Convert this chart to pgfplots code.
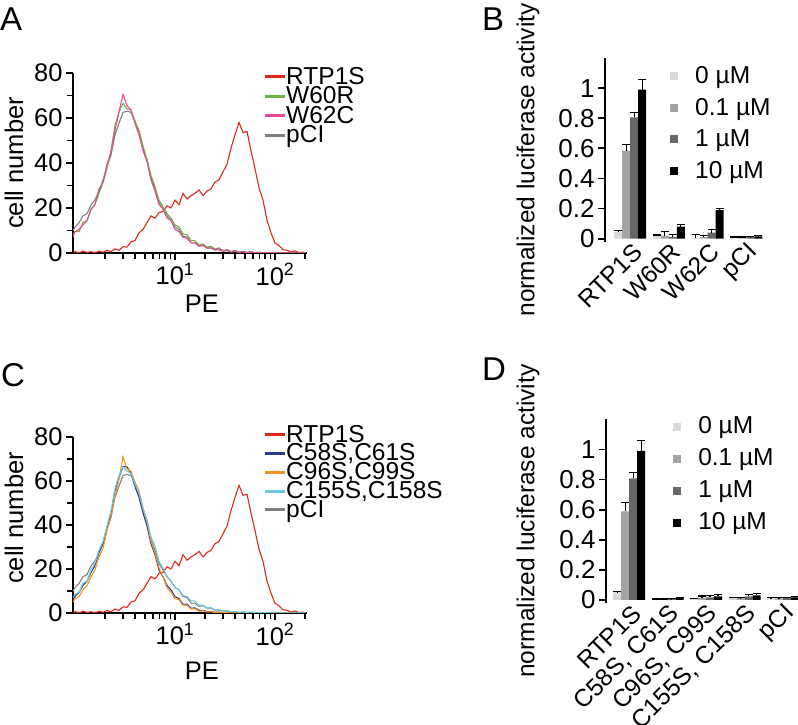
\documentclass[border=0pt]{standalone}
\usepackage{fontspec}
\setmainfont{Liberation Sans}
\usepackage{pgfplots}
\pgfplotsset{compat=1.18}
\usepackage{pgfplotstable}

\definecolor{cRTP}{HTML}{E0251B}
\definecolor{cW60R}{HTML}{6CB33F}
\definecolor{cW62C}{HTML}{E84A9B}
\definecolor{cpCI}{HTML}{808080}
\definecolor{cC58}{HTML}{2B3A8F}
\definecolor{cC96}{HTML}{F5921E}
\definecolor{cC155}{HTML}{6ACBE0}
\definecolor{g0}{HTML}{D9D9D9}
\definecolor{g1}{HTML}{A3A3A3}
\definecolor{g2}{HTML}{666666}

\newcommand{\fs}{\fontsize{24.5}{29}\selectfont}
\newcommand{\fl}{\fontsize{25.5}{30}\selectfont}

% flow histograms, PE channel (log), counts per bin
\pgfplotstableread{
pe    red  gray green pink blue orange cyan
0.955 0.3  10   8     7    6    5      7
1.00  0.6  11.5 9.5   9.5  7.5  6.5    8.5
1.10  0    13.5 9.5   10.5 9.5  7.5    9.5
1.20  0.9  16.5 13.5  12.5 12.5 10.5   13.5
1.32  0.2  17.5 14.5  14.5 14.5 12.5   14.5
1.45  0.6  21.5 19.5  19.5 18.5 16.5   19.5
1.58  0    23.5 21.5  21.5 21.5 19.5   22.5
1.74  0.8  27.5 26.5  28.5 27.5 25.5   28.5
1.91  0.3  32.5 31.5  31.5 31.5 29.5   32.5
2.09  1.2  38.5 37.5  39.5 38.5 37.5   39.5
2.29  0.6  43.5 45.5  44.5 45.5 43.5   46.5
2.51  1.8  52.5 56.5  54.5 55.5 53.5   56.5
2.75  1.2  57.5 62.5  62.5 61.5 60.5   62.5
3.02  2.8  62.5 66.5  70.5 66.5 71     66.5
3.31  2.6  63   64    65.5 66.5 65.5   64.5
3.63  5    62.5 63.5  63.5 63.5 64.5   63.5
3.98  5.5  58.5 58.5  57.5 57.5 59.5   58.5
4.37  9    53.5 54.5  52.5 52.5 55.5   54.5
4.79  10.5 46.5 47.5  45.5 45.5 47.5   47.5
5.25  13.5 41.5 41.5  40.5 39.5 41.5   42.5
5.75  16.5 33.5 34.5  32.5 31.5 32.5   34.5
6.31  15.5 28.5 29.5  27.5 26.5 27.5   30.5
6.92  18   22.5 23.5  21.5 19.5 20.5   23.5
7.59  18.5 19.5 20.5  19.5 16.5 16.5   20.5
8.32  21   16.5 17.5  15.5 12.5 11.5   16.5
9.12  20   14.5 15.5  14.5 10.5 9.5    14.5
10.0  23.5 11.5 12.5  10.5 7.5  6.5    11.5
11.0  21.5 10.5 11.5  9.5  6.5  6      10.5
12.0  26.5 7.5  8.5   7    4    3.5    8
13.2  24   7    8     6.5  4    3.5    7.5
14.5  25.5 4.5  5.5   4.5  2.2  1.8    5.5
15.8  26.5 4.5  5.5   4.5  2.3  2      5.5
17.4  28   3    3.5   3    1.2  0.8    3.5
19.1  25.5 3.3  4     3.5  1.2  1      3.5
20.9  27.5 2.2  2.6   2.2  0.6  0.4    2.3
22.9  28.5 2.2  3     2.3  0.7  0.6    2.5
25.1  31.5 1.3  1.7   1.5  0.3  0.2    1.3
27.5  32.5 1.4  2.3   1.8  0.4  0.4    1.6
30.2  36   0.8  1.1   1    0.1  0.1    0.8
33.1  39.5 1    1.5   1.3  0.3  0.3    1.1
36.3  46.5 0.4  0.7   0.6  0    0      0.5
39.8  52.5 0.7  1.1   1    0.1  0.1    0.8
43.7  58   0.2  0.5   0.3  0    0      0.3
47.9  53.5 0.5  0.8   0.6  0    0      0.6
52.5  54   0.1  0.3   0.2  0    0      0.2
57.5  45.5 0.4  0.6   0.4  0    0      0.4
63.1  37.5 0.1  0.2   0.1  0    0      0.1
69.2  29   0.2  0.4   0.3  0    0      0.3
75.9  23.5 0    0.1   0    0    0      0
83.2  14.5 0.1  0.3   0.2  0    0      0.2
91.2  9    0    0     0    0    0      0
100   4.5  0    0.1   0    0    0      0
110   3.2  0    0     0    0    0      0
120   1.5  0    0     0    0    0      0
132   1.2  0    0     0    0    0      0
145   0.4  0    0     0    0    0      0
158   0.9  0    0     0    0    0      0
174   0.2  0    0     0    0    0      0
191   0.4  0    0     0    0    0      0
204   0    0    0     0    0    0      0
}\histdata

% luciferase, mean and error for 0, 0.1, 1, 10 uM
\pgfplotstableread{
x c0    e0    c1    e1    c2    e2    c3    e3
0 0.046 0.008 0.585 0.038 0.805 0.033 0.990 0.068
1 0.020 0.005 0.020 0.026 0.012 0.016 0.080 0.015
2 0.006 0.022 0.010 0.010 0.040 0.022 0.190 0.010
3 0.008 0.003 0.008 0.003 0.010 0.003 0.016 0.003
}\barsB
\pgfplotstableread{
x c0    e0    c1    e1    c2    e2    c3    e3
0 0.050 0.006 0.589 0.060 0.807 0.040 0.990 0.070
1 0.004 0.002 0.004 0.002 0.006 0.002 0.012 0.003
2 0.008 0.004 0.015 0.012 0.018 0.012 0.024 0.010
3 0.012 0.006 0.012 0.004 0.024 0.012 0.030 0.012
4 0.010 0.004 0.010 0.004 0.013 0.005 0.018 0.004
}\barsD

\pgfplotsset{
  histo/.style={
    scale only axis, width=234pt,
    xmin=0.955, xmax=209, ymin=0, ymax=80,
    axis lines=left, axis line style={-, line width=2.3pt},
    tick style={line width=1.8pt, black}, tick align=outside,
    major tick length=7pt, minor tick length=6pt,
    xtick={10,100}, xticklabels={10\textsuperscript{1},10\textsuperscript{2}},
    minor xtick={2,3,4,5,6,7,8,9,20,30,40,50,60,70,80,90,200},
    ytick={0,20,40,60,80}, minor ytick={10,30,50,70},
    /pgf/number format/assume math mode=true,
    tick label style={font=\fl}, label style={font=\fl},
    xlabel={PE}, ylabel={cell number},
    legend cell align=left,
    legend image code/.code={\draw[#1, line width=3pt] (0pt,0pt) -- (20pt,0pt);},
    every axis plot/.append style={line width=1.1pt},
  },
  bars/.style={
    scale only axis, ymin=-0.02, ymax=1.2, height=183.7pt,
    axis lines=left, axis line style={-, line width=2.3pt},
    x axis line style={draw=none}, xtick style={draw=none},
    ytick style={line width=1.8pt, black}, tick align=outside, major tick length=7pt,
    ytick={0,0.2,0.4,0.6,0.8,1},
    /pgf/number format/assume math mode=true,
    yticklabel style={font=\fontsize{26}{30}\selectfont},
    xticklabel style={font=\fs, xshift=10pt, yshift=3pt, rotate=45, anchor=east},
    label style={font=\fs},
    ylabel={normalized luciferase activity},
    ybar=0pt, bar width=8pt,
    error bars/y dir=plus, error bars/y explicit,
    error bars/error bar style={line width=1.2pt, draw=black},
    error bars/error mark options={rotate=90, mark size=4pt, line width=1.2pt, draw=black},
    legend cell align=left,
    legend image code/.code={\fill[#1] (0pt,-4pt) rectangle (8pt,4pt);},
  },
}

\begin{document}
\begin{tikzpicture}
\path[use as bounding box] (0pt,0pt) rectangle (798pt,725pt);

% A
\begin{axis}[xmode=log, histo, at={(73pt,472pt)}, anchor=south west, height=180pt,
  xlabel style={at={(axis description cs:0.551,-0.283)}, anchor=center},
  ylabel style={at={(axis description cs:-0.252,0.5)}, anchor=center},
  legend style={at={(0.812,1.034)}, anchor=north west, draw=none, fill=none,
    font=\fs, inner sep=0pt, row sep=0pt,
    nodes={inner sep=0pt, text height=17pt, text depth=2.5pt}}]
\addplot[cpCI, forget plot] table[x=pe, y=gray] {\histdata};
\addplot[cRTP] table[x=pe, y=red] {\histdata};
\addlegendentry{RTP1S}
\addplot[cW60R] table[x=pe, y=green] {\histdata};
\addlegendentry{W60R}
\addplot[cW62C] table[x=pe, y=pink] {\histdata};
\addlegendentry{W62C}
\addlegendimage{cpCI}
\addlegendentry{pCI}
\end{axis}

% C
\begin{axis}[xmode=log, histo, at={(73pt,112pt)}, anchor=south west, height=176pt,
  xlabel style={at={(axis description cs:0.551,-0.33)}, anchor=center},
  ylabel style={at={(axis description cs:-0.252,0.54)}, anchor=center},
  legend style={at={(0.812,1.066)}, anchor=north west, draw=none, fill=none,
    font=\fs, inner sep=0pt, row sep=0pt,
    nodes={inner sep=0pt, text height=16.5pt, text depth=2.25pt}}]
\addplot[cpCI, forget plot] table[x=pe, y=gray] {\histdata};
\addplot[cRTP] table[x=pe, y=red] {\histdata};
\addlegendentry{RTP1S}
\addplot[cC58] table[x=pe, y=blue] {\histdata};
\addlegendentry{C58S,C61S}
\addplot[cC96] table[x=pe, y=orange] {\histdata};
\addlegendentry{C96S,C99S}
\addplot[cC155] table[x=pe, y=cyan] {\histdata};
\addlegendentry{C155S,C158S}
\addlegendimage{cpCI}
\addlegendentry{pCI}
\end{axis}

% B
\begin{axis}[bars, at={(605pt,483.3pt)}, anchor=south west, width=160.6pt,
  xmin=-0.65, xmax=3.5, xtick={0,1,2,3}, xticklabels={RTP1S,W60R,W62C,pCI},
  ylabel style={at={(axis description cs:-0.479,0.445)}, anchor=center},
  legend style={at={(0.405,0.954)}, anchor=north west, draw=none, fill=none,
    font=\fs, inner sep=0pt, row sep=12pt, column sep=17pt,
    nodes={inner sep=0pt, text height=17pt, text depth=2.5pt}}]
\addplot[fill=g0, draw=none] table[x=x, y=c0, y error=e0] {\barsB};
\addlegendentry{0 µM}
\addplot[fill=g1, draw=none] table[x=x, y=c1, y error=e1] {\barsB};
\addlegendentry{0.1 µM}
\addplot[fill=g2, draw=none] table[x=x, y=c2, y error=e2] {\barsB};
\addlegendentry{1 µM}
\addplot[fill=black, draw=none] table[x=x, y=c3, y error=e3] {\barsB};
\addlegendentry{10 µM}
\end{axis}

% D
\begin{axis}[bars, at={(606pt,122pt)}, anchor=south west, width=194.4pt,
  xmin=-0.6, xmax=4.45, xtick={0,1,2,3,4},
  xticklabels={RTP1S,{C58S, C61S},{C96S, C99S},{C155S, C158S},pCI},
  ylabel style={at={(axis description cs:-0.401,0.446)}, anchor=center},
  legend style={at={(0.345,1.014)}, anchor=north west, draw=none, fill=none,
    font=\fs, inner sep=0pt, row sep=12.5pt, column sep=17pt,
    nodes={inner sep=0pt, text height=17pt, text depth=2.5pt}}]
\addplot[fill=g0, draw=none] table[x=x, y=c0, y error=e0] {\barsD};
\addlegendentry{0 µM}
\addplot[fill=g1, draw=none] table[x=x, y=c1, y error=e1] {\barsD};
\addlegendentry{0.1 µM}
\addplot[fill=g2, draw=none] table[x=x, y=c2, y error=e2] {\barsD};
\addlegendentry{1 µM}
\addplot[fill=black, draw=none] table[x=x, y=c3, y error=e3] {\barsD};
\addlegendentry{10 µM}
\end{axis}

\begin{scope}[every node/.style={anchor=north west, inner sep=0pt, font=\fontsize{33}{36}\selectfont}]
\node at (0pt,717pt) {A};
\node at (482pt,717pt) {B};
\node at (1pt,362pt) {C};
\node at (482pt,367pt) {D};
\end{scope}
\end{tikzpicture}
\end{document}
